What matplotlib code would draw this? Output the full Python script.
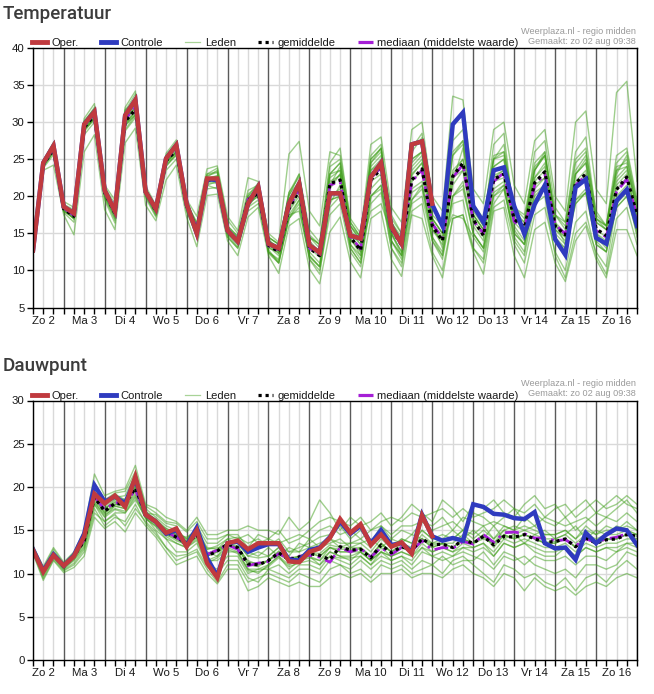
import matplotlib
matplotlib.use('Agg')
import matplotlib.pyplot as plt
import numpy as np
from matplotlib.lines import Line2D

# 6-hourly steps, starting Zo 2 06:00 and ending Ma 17 00:00
DAY_LABELS = ['Zo 2', 'Ma 3', 'Di 4', 'Wo 5', 'Do 6', 'Vr 7', 'Za 8', 'Zo 9',
              'Ma 10', 'Di 11', 'Wo 12', 'Do 13', 'Vr 14', 'Za 15', 'Zo 16']

# ---------------- Temperatuur ----------------
OPER_T = [12.7, 24.5, 26.8, 18.6, 17.7, 29.7, 31.4, 20.8, 18.0, 30.9,
          33.0, 20.6, 18.3, 25.1, 26.9, 19.0, 15.0, 22.4, 22.4, 15.4,
          13.9, 19.0, 21.3, 13.6, 13.0, 19.0, 21.7, 13.4, 12.4, 20.4,
          20.4, 14.7, 14.3, 22.6, 24.5, 15.9, 13.6, 27.0, 27.4, 19.0]

CONTROLE_T = [12.7, 24.5, 26.8, 18.6, 17.7, 29.7, 31.4, 20.8, 18.0, 30.9,
              33.0, 20.6, 18.3, 25.1, 26.9, 19.0, 15.0, 22.3, 22.2, 15.4,
              13.9, 19.0, 21.3, 13.6, 13.0, 19.0, 21.7, 13.4, 12.4, 20.4,
              20.4, 14.7, 14.3, 22.6, 24.5, 15.9, 13.6, 27.0, 27.4, 18.9,
              16.0, 29.7, 31.3, 18.7, 16.5, 23.5, 23.9, 18.7, 14.9, 18.9,
              21.5, 14.2, 12.1, 21.2, 22.3, 14.4, 13.6, 19.4, 20.9, 16.0]

MEAN_T = [12.8, 24.3, 26.3, 18.3, 17.3, 29.3, 30.9, 20.5, 17.7, 30.1,
          31.7, 20.7, 18.0, 24.8, 26.2, 18.7, 15.6, 22.2, 22.3, 15.3,
          14.0, 19.5, 20.4, 13.4, 12.5, 18.3, 20.8, 13.0, 12.0, 21.7,
          22.2, 14.5, 12.7, 22.2, 23.7, 15.7, 13.4, 22.2, 23.7, 16.0,
          14.0, 22.7, 24.5, 16.9, 14.7, 22.3, 23.0, 16.9, 15.8, 21.8,
          23.3, 16.0, 14.8, 21.8, 23.0, 15.6, 14.7, 20.9, 22.6, 17.5]

MEDIAN_T = [12.8, 24.4, 26.4, 18.4, 17.4, 29.5, 31.1, 20.6, 17.8, 30.4,
            32.0, 20.7, 18.1, 24.9, 26.3, 18.7, 15.7, 22.3, 22.4, 15.3,
            14.1, 19.6, 20.5, 13.3, 12.7, 18.4, 21.0, 13.0, 12.2, 21.5,
            22.0, 14.6, 12.9, 22.4, 23.9, 15.5, 13.6, 22.0, 23.5, 16.3,
            14.3, 22.5, 24.3, 16.7, 15.0, 22.0, 23.2, 16.6, 15.6, 21.5,
            23.0, 16.2, 14.9, 21.5, 22.8, 15.4, 14.5, 20.6, 22.3, 17.3]

LEDEN_T = [
    [12.5, 24.6, 27.0, 18.8, 17.9, 30.2, 31.8, 21.0, 18.5, 31.5, 33.8,
     21.0, 18.4, 25.5, 27.3, 19.2, 16.0, 23.0, 23.3, 16.0, 14.6, 20.0, 21.8,
     14.0, 13.0, 20.5, 22.6, 14.8, 13.5, 23.0, 24.5, 16.0, 14.0, 25.0, 26.4,
     17.5, 15.0, 26.0, 27.9, 18.5, 16.5, 27.5, 29.0, 19.0, 17.0, 25.0, 26.0,
     18.0, 16.5, 24.0, 25.5, 17.5, 15.5, 24.5, 26.0, 18.0, 16.0, 23.5, 24.0,
     18.5],
    [12.0, 23.8, 25.6, 17.8, 16.5, 28.3, 30.0, 19.8, 16.8, 28.8, 30.6,
     19.8, 17.2, 23.5, 25.0, 18.0, 14.5, 21.0, 21.2, 14.5, 13.0, 18.0, 19.0,
     12.5, 11.0, 17.0, 18.5, 11.5, 10.0, 17.5, 19.0, 12.5, 10.5, 19.0, 20.5,
     13.0, 11.0, 19.0, 20.0, 14.0, 11.5, 19.0, 19.5, 13.0, 11.0, 18.5, 19.5,
     13.5, 11.0, 17.5, 18.5, 12.5, 10.0, 16.5, 18.0, 12.0, 9.5, 17.0, 18.5,
     13.5],
    [12.9, 24.4, 26.5, 18.4, 17.4, 29.6, 31.1, 20.4, 17.6, 30.3, 32.2,
     20.6, 18.2, 24.6, 26.0, 18.9, 15.8, 22.4, 22.8, 15.4, 14.2, 19.7, 20.7,
     13.6, 12.3, 18.5, 21.0, 13.2, 12.2, 22.0, 22.8, 14.5, 12.0, 22.5, 24.0,
     15.8, 13.5, 22.8, 24.5, 16.5, 14.5, 23.5, 25.0, 17.0, 15.0, 22.8, 23.5,
     17.0, 15.5, 22.0, 23.5, 16.0, 14.5, 22.0, 23.5, 15.5, 14.5, 21.5, 23.0,
     17.0],
    [13.3, 24.0, 25.9, 18.2, 17.0, 29.0, 30.3, 19.5, 16.4, 29.5, 31.0,
     20.0, 17.5, 24.0, 25.8, 18.0, 14.8, 21.5, 22.0, 14.5, 13.0, 18.5, 20.5,
     12.5, 11.5, 17.5, 19.5, 11.5, 9.5, 19.0, 21.5, 13.0, 11.0, 20.0, 21.0,
     13.0, 10.5, 18.0, 19.0, 12.5, 10.0, 17.0, 17.5, 13.0, 11.5, 20.0, 21.5,
     14.0, 12.0, 19.0, 20.0, 12.0, 9.0, 15.0, 16.5, 12.5, 10.5, 19.0, 21.0,
     14.5],
    [12.3, 24.8, 27.3, 19.3, 18.5, 30.5, 32.5, 21.5, 19.5, 32.0, 34.2,
     21.4, 18.8, 25.8, 27.6, 19.6, 17.3, 23.7, 24.1, 17.3, 15.4, 22.5, 22.0,
     15.0, 13.8, 25.7, 27.4, 18.0, 16.0, 26.0, 25.5, 17.0, 15.0, 27.0, 28.0,
     18.5, 16.5, 29.0, 30.0, 20.0, 18.0, 33.5, 33.0, 21.0, 19.0, 29.0, 30.0,
     21.5, 19.0, 27.5, 29.0, 20.0, 18.0, 30.0, 31.5, 21.0, 19.0, 34.0, 35.5,
     22.0],
    [12.6, 23.5, 24.2, 17.5, 14.8, 26.0, 28.3, 18.2, 15.5, 27.2, 29.2,
     18.8, 16.7, 22.2, 24.2, 17.2, 13.2, 20.1, 20.3, 14.0, 12.0, 17.2, 18.5,
     12.0, 9.6, 16.0, 17.0, 10.2, 8.2, 15.2, 17.2, 11.2, 9.0, 17.0, 18.0,
     11.5, 9.2, 17.5, 17.0, 12.0, 9.0, 17.0, 17.5, 12.5, 9.5, 18.0, 18.5,
     12.0, 9.0, 15.5, 16.5, 11.0, 8.5, 14.0, 16.0, 11.5, 9.0, 15.5, 15.5,
     12.0],
    [12.8, 24.5, 26.9, 18.6, 17.6, 29.9, 31.5, 20.8, 18.2, 31.0, 33.0,
     20.9, 18.7, 25.2, 26.8, 19.4, 16.3, 22.8, 23.2, 16.0, 14.6, 20.3, 21.4,
     14.0, 13.2, 20.0, 23.0, 15.5, 13.8, 24.5, 26.5, 16.5, 14.5, 25.5, 27.0,
     16.0, 14.0, 26.5, 28.5, 17.0, 15.0, 29.5, 31.0, 18.0, 16.0, 27.0, 28.5,
     17.0, 15.5, 26.0, 27.5, 18.5, 16.5, 26.0, 28.0, 17.5, 16.0, 25.5, 26.5,
     19.5],
    [12.4, 24.2, 26.0, 18.0, 17.0, 28.9, 30.6, 20.2, 17.2, 29.8, 31.4,
     20.3, 17.8, 24.3, 25.6, 18.5, 15.2, 21.8, 21.8, 15.0, 13.5, 19.0, 20.0,
     13.2, 12.0, 18.0, 20.0, 12.5, 11.0, 20.0, 21.0, 13.5, 12.0, 21.0, 22.5,
     14.0, 12.0, 21.0, 22.0, 14.5, 12.5, 20.0, 21.0, 15.0, 13.0, 21.0, 22.0,
     15.5, 13.5, 20.5, 21.5, 14.5, 13.0, 19.5, 21.0, 14.0, 12.5, 20.0, 21.5,
     16.0],
    [13.0, 24.9, 26.6, 18.9, 18.2, 30.0, 32.0, 21.2, 19.0, 31.7, 32.8,
     21.0, 18.5, 25.0, 26.4, 19.0, 16.5, 23.0, 23.8, 16.8, 15.0, 20.8, 21.5,
     14.5, 13.5, 19.5, 21.5, 14.0, 12.5, 21.5, 24.0, 16.5, 14.5, 24.0, 25.5,
     15.0, 12.5, 25.0, 26.0, 16.5, 13.0, 22.0, 26.5, 17.5, 15.5, 25.0, 27.0,
     18.0, 15.0, 23.5, 26.0, 16.5, 13.5, 23.0, 24.5, 17.0, 15.5, 23.0, 25.5,
     18.0],
    [12.2, 24.0, 26.2, 18.5, 17.2, 29.2, 30.9, 20.6, 17.9, 30.6, 31.8,
     20.7, 18.1, 24.5, 26.0, 18.8, 15.5, 22.0, 22.5, 15.5, 14.3, 19.5, 20.4,
     13.0, 12.5, 19.0, 21.0, 13.5, 12.5, 21.0, 23.0, 15.0, 12.5, 24.5, 26.5,
     15.0, 12.0, 23.5, 25.0, 15.5, 13.5, 21.5, 23.5, 16.0, 14.0, 24.0, 25.0,
     16.0, 14.0, 22.5, 24.5, 15.5, 14.0, 21.5, 22.5, 15.0, 13.5, 22.0, 23.5,
     16.5],
    [13.1, 24.3, 26.3, 18.3, 16.9, 28.7, 30.5, 19.9, 17.0, 29.0, 30.9,
     20.2, 17.4, 24.1, 25.5, 18.3, 15.0, 21.5, 21.0, 14.8, 13.2, 18.5, 19.5,
     12.8, 11.0, 17.5, 18.0, 12.0, 10.5, 18.5, 20.0, 14.0, 13.0, 18.0, 19.0,
     15.0, 12.5, 19.5, 21.5, 15.5, 14.0, 17.5, 17.0, 14.5, 12.5, 19.0, 21.0,
     14.5, 12.5, 21.0, 22.5, 15.0, 13.5, 19.0, 20.5, 14.5, 13.0, 18.5, 20.0,
     15.0],
    [12.7, 24.7, 26.6, 18.7, 17.7, 29.8, 31.2, 20.5, 18.0, 30.8, 32.5,
     20.8, 18.3, 25.4, 27.0, 19.1, 16.2, 22.6, 23.5, 15.8, 14.4, 20.0, 21.2,
     14.2, 12.8, 19.5, 22.0, 14.5, 13.0, 23.0, 24.5, 15.5, 13.5, 23.5, 25.0,
     16.5, 14.0, 24.5, 26.0, 16.5, 14.0, 25.5, 27.0, 17.5, 15.5, 24.0, 25.0,
     17.5, 15.0, 23.5, 25.5, 16.5, 15.0, 23.0, 25.0, 16.5, 15.5, 24.0, 24.5,
     17.5],
    [12.6, 24.3, 26.4, 18.5, 17.5, 29.5, 31.0, 20.7, 17.9, 30.5, 32.0,
     20.5, 18.0, 24.9, 26.5, 18.6, 15.5, 22.0, 22.5, 15.2, 14.0, 19.3, 20.2,
     14.5, 13.5, 20.5, 23.0, 14.5, 13.5, 24.0, 25.0, 16.0, 14.5, 25.0, 26.5,
     17.0, 15.0, 25.0, 26.0, 17.5, 16.0, 26.0, 27.5, 18.5, 16.5, 25.5, 26.0,
     18.5, 17.5, 24.5, 26.0, 17.5, 16.5, 25.0, 26.5, 17.0, 16.0, 24.5, 26.0,
     19.0],
    [12.9, 24.2, 26.1, 18.1, 17.1, 29.1, 30.7, 20.3, 17.5, 29.9, 31.5,
     20.9, 18.2, 24.7, 26.1, 18.7, 15.6, 22.3, 22.1, 15.3, 13.8, 19.4, 20.6,
     12.3, 11.0, 17.0, 19.5, 11.8, 10.5, 19.5, 20.0, 13.5, 11.5, 20.0, 21.5,
     14.0, 12.0, 19.5, 21.0, 14.5, 12.0, 20.0, 22.0, 15.0, 13.0, 20.5, 21.5,
     15.0, 13.5, 20.0, 21.5, 14.0, 12.5, 19.0, 20.5, 13.5, 12.5, 18.5, 20.0,
     15.5],
    [12.7, 24.6, 26.7, 18.5, 17.6, 29.4, 31.2, 20.6, 17.8, 30.2, 31.9,
     20.6, 18.0, 25.0, 26.5, 18.8, 15.9, 22.5, 22.6, 15.6, 14.2, 19.8, 20.5,
     14.4, 13.6, 20.2, 22.0, 14.5, 13.5, 23.0, 23.5, 16.0, 14.0, 24.5, 26.0,
     16.5, 14.0, 24.0, 25.5, 17.0, 15.0, 25.5, 27.5, 18.5, 16.0, 25.0, 25.5,
     18.5, 17.0, 23.5, 25.5, 17.5, 16.0, 23.5, 25.5, 17.0, 16.0, 23.5, 25.0,
     19.0],
    [12.5, 24.1, 26.0, 18.0, 17.1, 29.0, 30.7, 20.1, 17.3, 29.7, 31.3,
     20.4, 17.7, 24.5, 25.9, 18.4, 15.3, 22.0, 22.0, 15.0, 13.7, 19.0, 20.0,
     12.5, 11.3, 17.0, 19.0, 12.0, 10.5, 19.5, 20.0, 13.0, 11.0, 20.0, 21.5,
     14.0, 11.5, 20.5, 21.5, 14.0, 12.0, 20.0, 21.5, 15.0, 13.0, 20.0, 21.0,
     15.0, 13.5, 19.5, 21.0, 14.0, 13.0, 19.5, 20.5, 13.5, 12.5, 19.0, 20.5,
     15.5],
    [13.0, 24.5, 26.5, 18.6, 17.5, 29.6, 31.3, 20.8, 18.1, 30.7, 32.4,
     21.0, 18.3, 25.1, 26.6, 18.9, 15.7, 22.4, 22.7, 15.5, 14.3, 19.8, 20.8,
     13.7, 12.7, 18.8, 21.0, 13.3, 12.3, 22.5, 23.5, 15.0, 13.5, 23.5, 24.5,
     16.5, 14.5, 23.0, 24.5, 17.0, 15.0, 23.0, 25.0, 17.5, 15.5, 22.5, 23.5,
     17.5, 16.5, 22.5, 24.0, 16.0, 15.0, 23.0, 24.5, 16.5, 15.5, 22.5, 24.0,
     18.5],
    [12.4, 24.0, 26.0, 18.2, 17.3, 29.0, 30.5, 20.4, 17.4, 29.6, 31.0,
     20.5, 17.9, 24.6, 26.0, 18.6, 15.4, 22.0, 22.3, 15.1, 13.9, 19.2, 20.4,
     13.4, 12.3, 18.2, 20.5, 13.0, 11.8, 21.5, 23.0, 14.2, 12.5, 22.0, 23.0,
     15.0, 13.5, 22.0, 23.5, 15.5, 14.0, 22.5, 23.5, 16.5, 14.5, 22.0, 22.5,
     16.5, 15.0, 21.5, 22.5, 15.5, 14.5, 21.5, 23.0, 15.0, 14.0, 21.0, 22.5,
     17.0],
]

# ---------------- Dauwpunt ----------------
OPER_D = [12.7, 10.2, 12.1, 10.9, 12.0, 14.3, 19.2, 18.1, 19.0, 17.7,
          21.2, 16.8, 16.0, 14.7, 15.2, 13.1, 15.0, 11.2, 9.5, 13.5,
          13.8, 12.8, 13.5, 13.5, 13.5, 11.4, 11.3, 12.5, 12.9, 14.1,
          16.3, 14.7, 15.7, 13.3, 14.5, 13.1, 13.6, 12.3, 16.7, 14.3]

CONTROLE_D = [12.8, 10.3, 12.2, 10.9, 12.1, 14.6, 20.2, 18.3, 18.9, 18.1,
              21.0, 16.8, 16.0, 14.6, 15.0, 13.2, 15.3, 11.8, 9.7, 13.5,
              13.7, 12.5, 13.0, 13.4, 13.4, 11.6, 11.5, 12.7, 13.0, 14.2,
              16.0, 14.6, 15.5, 13.5, 15.0, 13.3, 13.5, 12.5, 16.8, 14.3,
              13.8, 14.1, 13.8, 18.0, 17.7, 16.9, 16.8, 16.4, 16.3, 17.1,
              13.5, 12.9, 13.0, 11.6, 14.7, 13.5, 14.5, 15.2, 15.0, 13.3]

MEAN_D = [12.7, 10.3, 12.2, 10.8, 12.0, 13.8, 18.8, 17.2, 18.1, 18.0,
          19.9, 16.8, 15.9, 14.8, 14.2, 13.5, 14.5, 12.0, 12.6, 13.4,
          13.0, 11.1, 11.0, 11.5, 12.4, 11.6, 11.9, 12.3, 12.1, 11.6,
          13.1, 12.7, 12.8, 11.8, 13.3, 12.4, 13.1, 12.7, 14.0, 13.3,
          13.4, 13.0, 13.9, 13.5, 14.3, 13.3, 14.3, 14.2, 14.5, 14.0,
          13.6, 13.7, 14.0, 13.1, 14.1, 13.5, 13.9, 14.0, 14.5, 14.3]

MEDIAN_D = [12.7, 10.3, 12.2, 10.8, 12.0, 13.9, 18.9, 17.4, 18.2, 18.1,
            19.7, 16.8, 15.9, 14.8, 14.2, 13.4, 14.6, 12.2, 12.7, 13.3,
            12.8, 10.9, 11.2, 11.4, 12.3, 11.7, 12.0, 12.1, 11.9, 11.3,
            13.0, 12.5, 12.9, 11.9, 13.0, 12.2, 13.0, 12.6, 13.8, 12.7,
            13.0, 12.9, 13.7, 13.4, 14.5, 13.6, 14.7, 14.8, 14.6, 14.1,
            14.1, 13.8, 13.9, 13.2, 14.0, 13.6, 14.0, 14.2, 14.6, 14.4]

LEDEN_D = [
    [12.8, 10.5, 12.4, 11.0, 12.2, 14.5, 19.5, 18.3, 19.2, 18.5, 20.5,
     17.5, 16.5, 15.5, 15.0, 14.0, 15.2, 13.0, 12.8, 14.0, 14.2, 13.5, 14.0,
     13.2, 14.0, 12.5, 13.0, 13.5, 14.2, 14.5, 15.5, 14.0, 15.0, 13.5, 15.5,
     14.0, 15.0, 14.5, 16.0, 15.0, 15.5, 16.0, 15.0, 17.0, 16.5, 15.5, 16.5,
     17.5, 16.0, 17.0, 16.0, 15.5, 16.5, 15.0, 16.0, 17.0, 16.5, 17.5, 18.5,
     17.0],
    [12.4, 9.4, 11.6, 10.3, 11.0, 12.5, 17.0, 16.0, 16.8, 15.5, 17.5,
     16.0, 14.8, 13.0, 11.5, 12.0, 12.5, 10.5, 9.0, 11.0, 11.0, 9.0, 9.5,
     10.0, 9.5, 9.0, 10.0, 9.5, 9.0, 10.5, 11.0, 10.0, 10.5, 9.5, 11.0,
     10.5, 11.0, 10.0, 10.5, 11.0, 10.0, 11.5, 12.0, 11.0, 10.0, 9.0, 11.0,
     10.5, 9.5, 10.0, 9.0, 8.5, 9.5, 8.0, 9.5, 10.0, 9.0, 10.5, 11.5,
     10.5],
    [12.7, 10.2, 12.2, 10.8, 11.9, 13.8, 18.7, 17.0, 18.0, 17.8, 19.8,
     16.9, 15.9, 14.5, 14.0, 13.5, 14.5, 12.0, 12.5, 13.5, 13.0, 11.5, 11.0,
     11.5, 12.5, 11.5, 12.0, 12.5, 12.0, 13.0, 12.5, 12.5, 13.0, 12.0, 13.5,
     12.5, 13.0, 12.5, 14.0, 13.0, 13.5, 13.0, 14.0, 13.5, 14.5, 13.0, 14.5,
     14.0, 14.5, 14.0, 13.5, 13.5, 14.0, 13.0, 14.0, 13.5, 14.0, 14.0, 14.5,
     14.0],
    [13.2, 10.8, 13.0, 11.3, 12.5, 15.0, 21.5, 19.0, 19.5, 19.8, 22.5,
     18.0, 17.5, 16.5, 16.0, 15.0, 16.5, 14.5, 14.5, 15.0, 15.0, 15.5, 15.0,
     15.0, 14.5, 16.5, 15.0, 16.0, 18.5, 17.0, 15.0, 16.5, 15.5, 16.0, 17.0,
     15.5, 16.5, 18.0, 17.0, 16.0, 18.5, 17.5, 16.0, 18.0, 17.5, 18.5, 17.0,
     16.5, 18.0, 19.0, 17.5, 18.0, 16.5, 17.5, 18.5, 17.0, 18.0, 19.0, 18.0,
     17.5],
    [12.5, 9.8, 11.9, 10.5, 11.5, 13.0, 18.0, 16.0, 17.0, 17.0, 18.5,
     16.5, 15.0, 14.0, 12.5, 12.5, 13.5, 11.0, 10.5, 12.0, 12.0, 10.0, 10.5,
     10.5, 11.0, 10.0, 11.0, 11.0, 10.5, 12.0, 11.5, 11.0, 12.0, 11.0, 12.0,
     11.5, 12.0, 11.0, 12.5, 12.0, 11.5, 12.0, 12.5, 12.0, 11.5, 10.5, 12.0,
     11.5, 12.0, 11.0, 10.5, 10.0, 10.5, 9.5, 11.0, 11.0, 10.5, 11.0, 12.5,
     12.0],
    [12.9, 10.4, 12.5, 11.2, 12.3, 14.2, 19.0, 17.5, 18.5, 18.5, 20.2,
     17.2, 16.2, 15.0, 14.5, 14.2, 15.0, 12.5, 12.0, 13.5, 13.5, 12.0, 12.5,
     12.0, 13.0, 12.0, 13.5, 13.0, 13.5, 14.0, 13.0, 13.5, 14.0, 13.0, 14.5,
     13.0, 14.0, 13.5, 15.0, 14.0, 14.5, 14.0, 15.0, 14.5, 15.5, 14.0, 15.0,
     15.5, 15.0, 15.5, 14.5, 14.5, 15.0, 14.0, 15.5, 14.5, 15.5, 15.0, 16.0,
     15.0],
    [12.3, 9.2, 11.5, 10.1, 10.7, 12.0, 16.5, 15.2, 16.0, 14.8, 17.0,
     15.5, 14.2, 12.5, 11.0, 11.5, 12.0, 10.0, 8.8, 10.5, 10.5, 8.0, 8.5,
     9.5, 9.0, 8.5, 9.0, 8.5, 8.5, 9.5, 10.0, 9.5, 10.0, 9.0, 10.0,
     10.0, 10.5, 9.5, 10.0, 10.0, 9.5, 10.5, 11.0, 10.0, 9.5, 8.5, 10.0,
     9.5, 8.0, 9.5, 8.5, 8.0, 8.5, 7.5, 8.5, 9.0, 8.5, 9.5, 10.0,
     9.5],
    [12.6, 10.0, 12.0, 10.9, 12.0, 14.0, 20.0, 18.0, 18.8, 19.0, 21.5,
     17.0, 16.8, 15.8, 15.5, 13.5, 15.5, 13.5, 13.5, 14.5, 14.0, 14.5, 13.5,
     14.0, 13.5, 14.0, 14.5, 14.0, 15.0, 15.5, 14.5, 15.0, 14.0, 15.0, 15.5,
     14.5, 15.5, 15.5, 16.0, 15.5, 16.5, 15.0, 16.5, 16.0, 15.5, 16.0, 15.5,
     15.0, 16.5, 15.5, 16.5, 16.0, 15.5, 16.0, 16.5, 15.5, 16.5, 16.0, 17.0,
     16.0],
    [12.5, 10.1, 12.1, 10.7, 11.7, 13.5, 18.2, 16.8, 17.5, 17.2, 19.0,
     16.4, 15.4, 14.0, 13.5, 13.0, 14.0, 11.5, 11.5, 12.5, 12.5, 10.5, 10.0,
     11.0, 12.0, 10.5, 11.5, 12.0, 11.0, 12.5, 12.0, 11.5, 12.5, 11.5, 12.5,
     12.0, 12.5, 12.0, 13.0, 12.5, 13.0, 12.5, 13.0, 13.0, 13.5, 12.0, 13.5,
     13.0, 13.5, 12.5, 12.0, 12.0, 13.0, 12.0, 13.0, 12.5, 13.0, 12.5, 13.5,
     13.0],
    [13.0, 10.6, 12.8, 11.1, 12.4, 14.8, 20.5, 18.5, 19.3, 19.5, 21.8,
     17.8, 17.0, 16.0, 15.8, 14.8, 16.0, 14.0, 14.0, 14.5, 14.5, 13.0, 14.5,
     14.0, 15.0, 13.5, 14.0, 15.0, 16.0, 16.5, 16.0, 15.5, 16.5, 15.0, 16.0,
     16.5, 16.0, 17.0, 16.5, 17.0, 17.5, 16.5, 17.5, 16.5, 17.0, 17.5, 18.5,
     17.5, 17.0, 18.0, 16.5, 17.5, 18.0, 16.5, 17.5, 18.5, 17.5, 18.0, 19.0,
     18.0],
    [12.6, 9.6, 11.8, 10.4, 11.2, 12.8, 17.5, 15.5, 16.5, 16.0, 18.0,
     15.8, 14.5, 13.0, 12.0, 12.2, 12.8, 10.8, 10.0, 11.5, 11.5, 9.5, 9.0,
     10.5, 10.0, 9.5, 10.5, 10.5, 10.0, 11.5, 11.0, 10.5, 11.5, 10.5, 11.5,
     11.0, 11.5, 10.5, 11.5, 11.0, 12.0, 11.0, 11.5, 11.5, 12.5, 11.0, 12.5,
     12.0, 11.0, 12.0, 11.5, 11.5, 12.0, 11.0, 12.0, 12.0, 11.5, 12.5, 13.0,
     12.5],
    [12.9, 10.3, 12.3, 11.0, 12.1, 14.0, 19.2, 17.5, 18.2, 18.0, 20.0,
     16.6, 16.0, 15.2, 14.5, 13.8, 14.8, 12.8, 13.0, 13.0, 14.0, 12.5, 12.0,
     13.0, 12.0, 13.0, 12.5, 14.0, 13.0, 13.5, 14.0, 13.0, 13.5, 14.0, 13.0,
     14.0, 13.5, 14.5, 14.0, 13.5, 14.0, 15.0, 14.0, 15.0, 14.0, 15.5, 14.0,
     14.5, 13.5, 14.5, 15.0, 14.0, 14.5, 15.5, 14.0, 15.0, 14.5, 15.5, 15.0,
     14.5],
    [12.7, 10.2, 12.1, 10.8, 11.9, 13.7, 18.5, 17.0, 17.8, 17.5, 19.5,
     16.7, 15.8, 14.8, 14.0, 13.2, 14.2, 12.0, 12.5, 13.2, 13.0, 11.0, 10.8,
     11.5, 12.2, 11.5, 11.8, 12.0, 11.5, 13.0, 12.5, 12.5, 12.5, 11.5, 13.0,
     12.0, 13.0, 12.5, 14.0, 13.0, 13.5, 13.0, 14.0, 13.5, 14.0, 13.5, 14.5,
     14.0, 14.5, 14.0, 13.5, 13.5, 14.0, 13.0, 14.0, 13.5, 14.0, 14.0, 14.5,
     14.5],
    [12.8, 10.4, 12.3, 10.9, 12.1, 14.0, 19.0, 17.5, 18.3, 18.3, 20.0,
     17.0, 16.0, 14.9, 14.5, 13.7, 14.7, 12.3, 12.8, 13.5, 13.2, 11.3, 11.2,
     11.5, 12.6, 11.8, 12.0, 12.5, 12.3, 13.3, 13.0, 13.0, 13.0, 12.0, 13.5,
     12.5, 13.5, 13.0, 14.5, 13.5, 13.5, 13.5, 14.5, 13.5, 14.5, 13.5, 15.0,
     14.5, 15.0, 14.5, 14.0, 14.0, 14.5, 13.5, 14.5, 14.0, 14.5, 14.5, 15.0,
     14.5],
    [12.6, 10.1, 12.0, 10.7, 11.8, 13.5, 18.3, 16.6, 17.8, 17.5, 19.2,
     16.5, 15.6, 14.5, 13.8, 13.3, 14.2, 11.5, 12.0, 13.0, 12.5, 10.5, 10.5,
     11.0, 12.0, 11.0, 11.5, 11.8, 11.5, 12.5, 12.0, 12.0, 12.5, 11.5, 12.5,
     12.0, 12.5, 12.0, 13.5, 12.5, 13.0, 12.5, 13.5, 13.0, 13.5, 12.5, 14.0,
     13.5, 14.0, 13.5, 13.0, 13.0, 13.5, 12.5, 13.5, 13.0, 13.5, 13.5, 14.0,
     14.0],
    [12.8, 10.5, 12.4, 11.0, 12.2, 14.2, 19.5, 17.8, 18.6, 18.6, 20.5,
     17.0, 16.3, 15.2, 14.8, 14.0, 15.0, 12.8, 13.2, 14.0, 13.5, 12.0, 11.8,
     12.0, 13.0, 12.5, 12.5, 13.0, 13.0, 14.0, 13.5, 13.5, 13.5, 12.5, 14.0,
     13.0, 14.0, 13.5, 15.0, 14.0, 14.0, 14.0, 15.0, 14.0, 15.0, 14.0, 15.5,
     15.0, 15.5, 15.0, 14.5, 14.5, 15.0, 14.0, 15.0, 14.5, 15.0, 15.0, 15.5,
     15.0],
    [12.6, 10.0, 12.0, 10.6, 11.6, 13.2, 18.0, 16.5, 17.4, 17.0, 18.8,
     16.3, 15.5, 14.3, 13.5, 13.0, 13.8, 11.2, 11.8, 12.8, 12.3, 10.3, 10.2,
     10.8, 11.8, 10.8, 11.2, 11.5, 11.0, 12.0, 11.8, 11.8, 12.0, 11.0, 12.5,
     11.5, 12.0, 11.5, 13.0, 12.0, 12.5, 12.0, 13.0, 12.5, 13.0, 12.0, 13.5,
     13.0, 13.5, 13.0, 12.5, 12.5, 13.0, 12.0, 13.0, 12.5, 13.0, 13.0, 13.5,
     13.5],
    [12.7, 10.3, 12.2, 10.9, 12.0, 13.9, 18.8, 17.2, 18.0, 18.0, 19.8,
     16.8, 15.9, 14.7, 14.2, 13.5, 14.5, 12.0, 12.6, 13.4, 13.0, 11.0, 11.0,
     11.5, 12.4, 11.6, 12.0, 12.3, 12.0, 13.0, 12.8, 12.8, 12.8, 12.0, 13.3,
     12.5, 13.2, 12.8, 14.0, 13.3, 13.4, 13.0, 13.9, 13.5, 14.3, 13.3, 14.3,
     14.2, 14.5, 14.0, 13.6, 13.7, 14.0, 13.1, 14.1, 13.5, 13.9, 14.0, 14.5,
     14.3],
]

RED = '#c03a3e'
BLUE = '#2f3bbf'
GREEN = '#3f9f1a'
PURPLE = '#a51fd6'
TEXT = '#1a1a1a'
GRID = '#d9d9d9'
DAYLINE = '#5a5a5a'

plt.rcParams['font.family'] = ['Liberation Sans', 'DejaVu Sans']

W, H = 654, 694
fig = plt.figure(figsize=(W / 100, H / 100), dpi=100, facecolor='white')


def axes_box(top_px, bottom_px, left_px=33, right_px=637):
    return [left_px / W, 1 - bottom_px / H, (right_px - left_px) / W,
            (bottom_px - top_px) / H]


def draw_panel(ax, leden, controle, oper, mean, median, ymin, ymax, ystep):
    n = len(controle)
    t = np.arange(n)

    # grid: every 6 h light, midnight dark
    for x in t:
        midnight = (x - 3) % 4 == 0
        ax.axvline(x, color=DAYLINE if midnight else GRID,
                   lw=1.0, zorder=1 if midnight else 0)
    for y in np.arange(ymin + ystep, ymax, ystep):
        ax.axhline(y, color=GRID, lw=1.0, zorder=0)

    for m in leden:
        ax.plot(t, m, color=GREEN, lw=1.0, alpha=0.5, zorder=2)

    ax.plot(t, median, color=PURPLE, lw=2.0,
            linestyle=(0, (5, 2, 1, 2)), zorder=3)
    ax.plot(t, mean, color='black', lw=2.3,
            linestyle=(0, (1, 1.2)), dash_capstyle='butt', zorder=4)
    ax.plot(t, controle, color=BLUE, lw=3.2, zorder=5,
            solid_joinstyle='miter')
    ax.plot(t[:len(oper)], oper, color=RED, lw=3.2, zorder=6,
            solid_joinstyle='miter')

    ax.set_xlim(0, n - 1)
    ax.set_ylim(ymin, ymax)
    ax.set_yticks(np.arange(ymin, ymax + 0.1, ystep))
    ax.set_xticks(t, minor=True)
    ax.set_xticks(t[1::4][:len(DAY_LABELS)])
    ax.set_xticklabels(DAY_LABELS)
    ax.tick_params(axis='both', which='both', direction='out', length=4,
                   width=1, color='black', labelsize=8.2, labelcolor=TEXT,
                   pad=2)
    for s in ax.spines.values():
        s.set_color('black')
        s.set_linewidth(1.0)
        s.set_zorder(8)

    handles = [
        Line2D([], [], color=RED, lw=3.5),
        Line2D([], [], color=BLUE, lw=3.5),
        Line2D([], [], color=GREEN, lw=0.9, alpha=0.45),
        Line2D([], [], color='black', lw=2.3, linestyle=(0, (1, 1.2))),
        Line2D([], [], color=PURPLE, lw=2.3, linestyle=(0, (5, 2, 1, 2))),
    ]
    labels = ['Oper.', 'Controle', 'Leden', 'gemiddelde',
              'mediaan (middelste waarde)']
    ax.legend(handles, labels, loc='lower left', bbox_to_anchor=(-0.003, 0.995),
              ncol=5, frameon=False, fontsize=8.0, handlelength=1.35,
              handletextpad=0.4, columnspacing=2.0, borderaxespad=0.0,
              borderpad=0.1, labelcolor=TEXT)


ax_t = fig.add_axes(axes_box(48, 307.5))
draw_panel(ax_t, LEDEN_T, CONTROLE_T, OPER_T, MEAN_T, MEDIAN_T, 5, 40, 5)

ax_d = fig.add_axes(axes_box(400.5, 660))
draw_panel(ax_d, LEDEN_D, CONTROLE_D, OPER_D, MEAN_D, MEDIAN_D, 0, 30, 5)

# titles and source notes
for title, y_px, note_y in [('Temperatuur', 14, 32), ('Dauwpunt', 366, 383.5)]:
    fig.text(3 / W, 1 - y_px / H, title, ha='left', va='center',
             fontsize=13.5, fontweight='medium', color='#3c3c3c',
             family=['Roboto', 'DejaVu Sans'])
    fig.text(636 / W, 1 - note_y / H, 'Weerplaza.nl - regio midden',
             ha='right', va='center', fontsize=6.6, color='#9a9a9a')
    fig.text(636 / W, 1 - (note_y + 10) / H, 'Gemaakt: zo 02 aug 09:38',
             ha='right', va='center', fontsize=6.6, color='#9a9a9a')

fig.savefig('out.png', dpi=100, facecolor='white')
